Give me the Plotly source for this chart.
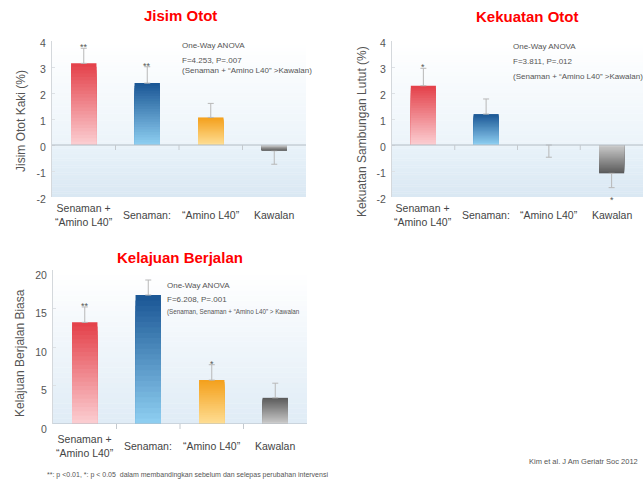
import plotly.graph_objects as go

W, H = 643, 480

# ---------------- data ----------------
categories = ["Senaman +<br>“Amino L40”", "Senaman:", "“Amino L40”", "Kawalan"]

# signed error lengths: positive = drawn upward, negative = drawn downward
muscle_mass = [3.14, 2.38, 1.06, -0.22]
muscle_mass_err = [0.58, 0.63, 0.54, -0.52]
muscle_mass_sig = ["**", "**", "", ""]

knee_strength = [2.28, 1.19, 0.0, -1.09]
knee_strength_err = [0.67, 0.58, -0.47, -0.55]
knee_strength_sig = ["*", "", "", "*"]

gait_speed = [13.2, 16.75, 5.7, 3.4]
gait_speed_err = [2.0, 1.95, 2.0, 1.9]
gait_speed_sig = ["**", "", "*", ""]

pct_ticks = [-2, -1, 0, 1, 2, 3, 4]
pct_tick_labels = ["-2", "-1", "0", "1", "2", "3", "4"]
speed_ticks = [0, 5, 10, 15, 20]
speed_tick_labels = ["0", "5", "10", "15", "20"]

titles = ["Jisim Otot", "Kekuatan Otot", "Kelajuan Berjalan"]
y_titles = ["Jisim Otot Kaki (%)", "Kekuatan Sambungan Lutut (%)", "Kelajuan Berjalan Biasa"]
anova_1 = ["One-Way ANOVA", "F=4.253, P=.007", "(Senaman + “Amino L40” >Kawalan)"]
anova_2 = ["One-Way ANOVA", "F=3.811, P=.012", "(Senaman + “Amino L40” >Kawalan)"]
anova_3 = ["One-Way ANOVA", "F=6.208, P=.001", "(Senaman, Senaman + “Amino L40” > Kawalan"]
footnote = "**: p <0.01, *: p < 0.05  dalam membandingkan sebelum dan selepas perubahan intervensi"
source = "Kim et al. J Am Geriatr Soc 2012"

# far-end colour, base colour per category
far_colors = ["#e4424b", "#1c5896", "#f4a11e", "#5c5c5c"]
base_colors = ["#fbccd0", "#8dcdf0", "#fedd92", "#cacaca"]

FONT = "Arial, Liberation Sans, sans-serif"
TXT = "#555555"


def px_x(p):
    return p / W


def px_y(p):
    return 1 - p / H


def hex2rgb(h):
    h = h.lstrip("#")
    return tuple(int(h[i:i + 2], 16) for i in (0, 2, 4))


def mix(c1, c2, t):
    a, b = hex2rgb(c1), hex2rgb(c2)
    return "rgb(%d,%d,%d)" % tuple(round(a[i] + (b[i] - a[i]) * t) for i in range(3))


fig = go.Figure()
shapes = []
annotations = []

panels = [
    dict(vals=muscle_mass, err=muscle_mass_err, sig=muscle_mass_sig, xa="x", ya="y",
         xdom=(52, 306), ydom=(41, 197), rng=(-2, 4), tv=pct_ticks, tt=pct_tick_labels,
         lshift=2, anova=anova_1,
         anova_pos=(180, 45, 60, 70), anova_sizes=(8, 8, 8),
         title_pos=(180, 16), ytitle_pos=(21, 121), label_mid=215),
    dict(vals=knee_strength, err=knee_strength_err, sig=knee_strength_sig, xa="x2", ya="y2",
         xdom=(392, 643), ydom=(41, 197), rng=(-2, 4), tv=pct_ticks, tt=pct_tick_labels,
         lshift=2, anova=anova_2,
         anova_pos=(511, 46, 61, 76), anova_sizes=(8, 8, 8),
         title_pos=(527, 17), ytitle_pos=(362, 132), label_mid=215),
    dict(vals=gait_speed, err=gait_speed_err, sig=gait_speed_sig, xa="x3", ya="y3",
         xdom=(53, 307), ydom=(270, 424), rng=(0, 20), tv=speed_ticks, tt=speed_tick_labels,
         lshift=5, anova=anova_3,
         anova_pos=(165, 285, 299, 312), anova_sizes=(8, 8, 6.3),
         title_pos=(180, 257), ytitle_pos=(20, 353), label_mid=446),
]

NL = 24
for i, p in enumerate(panels):
    vals, err = p["vals"], p["err"]
    lo, hi = p["rng"]
    # gradient bars (overlay layers computed from the data values)
    for k in range(NL):
        frac = 1 - k / NL
        cols = [mix(far_colors[j], base_colors[j], k / (NL - 1)) for j in range(4)]
        kw = {}
        if k == 0:
            kw["error_y"] = dict(
                type="data", symmetric=False,
                array=[e if e > 0 else 0 for e in err],
                arrayminus=[-e if e < 0 else 0 for e in err],
                color="#b8b8b8", thickness=1, width=3)
        fig.add_trace(go.Bar(
            x=categories, y=[v * frac for v in vals], width=0.4,
            marker=dict(color=cols, line=dict(width=0)),
            xaxis=p["xa"], yaxis=p["ya"], showlegend=False, hoverinfo="skip", **kw))

    # background gradient
    xd = p["xa"] + " domain"
    yd = p["ya"] + " domain"
    zf = (0 - lo) / (hi - lo)
    NS = 30
    if lo < 0:
        for s in range(NS):
            y0 = zf + (1 - zf) * s / NS
            y1 = zf + (1 - zf) * (s + 1) / NS
            shapes.append(dict(type="rect", xref=xd, yref=yd, x0=0, x1=1, y0=y0, y1=y1 + 0.002,
                               fillcolor=mix("#ecf4fa", "#ffffff", s / (NS - 1)),
                               line=dict(width=0), layer="below"))
        for s in range(NS):
            y0 = zf * s / NS
            y1 = zf * (s + 1) / NS
            shapes.append(dict(type="rect", xref=xd, yref=yd, x0=0, x1=1, y0=y0, y1=y1 + 0.002,
                               fillcolor=mix("#dae8f3", "#e8f2f9", s / (NS - 1)),
                               line=dict(width=0), layer="below"))
    else:
        for s in range(NS):
            y0 = s / NS
            y1 = (s + 1) / NS
            shapes.append(dict(type="rect", xref=xd, yref=yd, x0=0, x1=1, y0=y0, y1=y1 + 0.002,
                               fillcolor=mix("#e0ecf6", "#ffffff", s / (NS - 1)),
                               line=dict(width=0), layer="below"))
    # zero line and boundary ticks
    shapes.append(dict(type="line", xref=xd, yref=p["ya"], x0=0, x1=1, y0=0, y1=0,
                       line=dict(color="#b4bcc4", width=1)))
    tick_len = 5 / (p["ydom"][1] - p["ydom"][0])
    for b in [0.5, 1.5, 2.5]:
        shapes.append(dict(type="line", xref=p["xa"], yref=yd, x0=b, x1=b, y0=zf, y1=zf - tick_len,
                           line=dict(color="#c4c9ce", width=1)))

    # significance marks
    for j, s in enumerate(p["sig"]):
        if not s:
            continue
        v, e = vals[j], err[j]
        if e >= 0:
            annotations.append(dict(x=categories[j], y=v + e, xref=p["xa"], yref=p["ya"], text=s,
                                    showarrow=False, yanchor="middle", yshift=1,
                                    font=dict(size=9, color=TXT, family=FONT)))
        else:
            annotations.append(dict(x=categories[j], y=v + e, xref=p["xa"], yref=p["ya"], text=s,
                                    showarrow=False, yanchor="top", yshift=-5,
                                    font=dict(size=9, color=TXT, family=FONT)))

    # category labels
    for c in categories:
        annotations.append(dict(x=c, y=px_y(p["label_mid"]), xref=p["xa"], yref="paper", text=c,
                                showarrow=False, yanchor="middle", xanchor="center",
                                font=dict(size=10.5, color="#444444", family=FONT)))
    # title
    annotations.append(dict(x=px_x(p["title_pos"][0]), y=px_y(p["title_pos"][1]), xref="paper",
                            yref="paper", text="<b>%s</b>" % titles[i], showarrow=False,
                            xanchor="center", yanchor="middle",
                            font=dict(size=15, color="#ff0000", family=FONT)))
    # y title
    annotations.append(dict(x=px_x(p["ytitle_pos"][0]), y=px_y(p["ytitle_pos"][1]), xref="paper",
                            yref="paper", text=y_titles[i], showarrow=False, textangle=-90,
                            xanchor="center", yanchor="middle",
                            font=dict(size=12, color="#555555", family=FONT)))
    # ANOVA text
    ax, *ays = p["anova_pos"]
    for line, ay, fs in zip(p["anova"], ays, p["anova_sizes"]):
        annotations.append(dict(x=px_x(ax), y=px_y(ay), xref="paper", yref="paper", text=line,
                                showarrow=False, xanchor="left", yanchor="middle",
                                font=dict(size=fs, color="#555555", family=FONT)))

annotations.append(dict(x=px_x(45), y=px_y(475), xref="paper", yref="paper", text=footnote,
                        showarrow=False, xanchor="left", yanchor="middle",
                        font=dict(size=7, color="#555555", family=FONT)))
annotations.append(dict(x=px_x(640), y=px_y(461), xref="paper", yref="paper", text=source,
                        showarrow=False, xanchor="right", yanchor="middle",
                        font=dict(size=7.5, color="#555555", family=FONT)))

layout = dict(
    width=W, height=H, margin=dict(l=0, r=0, t=0, b=0, autoexpand=False),
    paper_bgcolor="white", plot_bgcolor="rgba(0,0,0,0)",
    barmode="overlay", showlegend=False,
    shapes=shapes, annotations=annotations,
    font=dict(family=FONT, color=TXT),
)
for i, p in enumerate(panels):
    sfx = "" if i == 0 else str(i + 1)
    layout["xaxis" + sfx] = dict(domain=[px_x(p["xdom"][0]), px_x(p["xdom"][1])],
                                 anchor="y" + sfx, type="category", range=[-0.5, 3.5],
                                 showticklabels=False, showgrid=False, zeroline=False,
                                 showline=False, ticks="", fixedrange=True, automargin=False)
    layout["yaxis" + sfx] = dict(domain=[px_y(p["ydom"][1]), px_y(p["ydom"][0])],
                                 anchor="x" + sfx, range=list(p["rng"]),
                                 tickvals=p["tv"], ticktext=p["tt"],
                                 showgrid=False, zeroline=False, showline=True,
                                 linecolor="#d4d8dc", linewidth=1,
                                 ticks="inside", ticklen=3, tickcolor="#dde1e5",
                                 ticklabelshift=p["lshift"], automargin=False,
                                 tickfont=dict(size=10.5, color="#555555", family=FONT),
                                 ticklabelstandoff=3, fixedrange=True)

fig.update_layout(**layout)
fig.write_html("out.html")
